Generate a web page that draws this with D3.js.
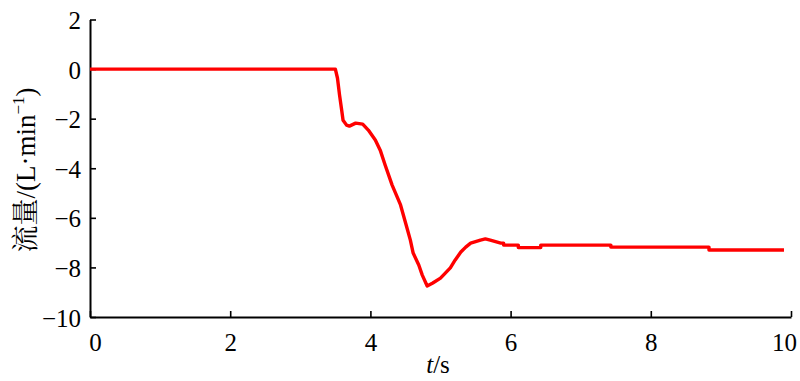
<!DOCTYPE html>
<html><head><meta charset="utf-8">
<script src="https://cdn.jsdelivr.net/npm/d3@7"></script>
<style>body{margin:0;background:#fff}svg{display:block}
.serif{font-family:"Liberation Serif","Times New Roman",Tinos,"DejaVu Serif",serif;}
.cjk{font-family:"Noto Serif CJK SC","Noto Sans CJK SC",sans-serif;}
</style>
</head><body>
<svg id="c" width="800" height="381"></svg>
<script>
const xTicks = [0, 2, 4, 6, 8, 10];
const yTicks = [2, 0, -2, -4, -6, -8, -10];
const timeS = [0, 3.5, 3.53, 3.56, 3.59, 3.61, 3.66, 3.70, 3.79, 3.89, 3.97, 4.07, 4.14, 4.21, 4.31, 4.43, 4.51, 4.57, 4.61, 4.69, 4.74, 4.81, 4.89, 5.0, 5.14, 5.21, 5.29, 5.36, 5.43, 5.57, 5.64, 5.71, 5.86, 5.90, 5.90, 6.11, 6.11, 6.43, 6.43, 7.43, 7.43, 8.83, 8.83, 9.9];
const flow  = [0, 0, -0.36, -1.05, -1.65, -2.06, -2.26, -2.30, -2.18, -2.22, -2.46, -2.86, -3.27, -3.87, -4.68, -5.48, -6.29, -6.90, -7.42, -7.90, -8.31, -8.75, -8.63, -8.43, -8.02, -7.70, -7.38, -7.18, -7.02, -6.90, -6.85, -6.90, -7.02, -7.02, -7.10, -7.10, -7.20, -7.20, -7.10, -7.10, -7.18, -7.18, -7.30, -7.30];

const svg = d3.select("#c");
const x = d3.scaleLinear().domain([0, 10]).range([90, 791]);
const y = d3.scaleLinear().domain([-10, 2]).range([317, 19.5]);

const xa = svg.append("g").attr("transform", `translate(0,${y(-10)})`)
  .call(d3.axisBottom(x).tickValues(xTicks).tickFormat(d3.format("d")).tickSizeInner(-6).tickSizeOuter(0).tickPadding(16));
const ya = svg.append("g").attr("transform", `translate(${x(0)},0)`)
  .call(d3.axisLeft(y).tickValues(yTicks).tickFormat(d => d < 0 ? "\u2212" + Math.abs(d) : d).tickSizeInner(-6).tickSizeOuter(0).tickPadding(9));
[xa, ya].forEach(a => {
  a.attr("font-family", null).attr("font-size", null);
  a.select(".domain").attr("stroke", "#000").attr("stroke-width", 2);
  a.selectAll(".tick line").attr("stroke", "#000").attr("stroke-width", 1.6);
  a.selectAll(".tick text").attr("class", "serif").style("font-size", "25px").attr("fill", "#000");
});
xa.selectAll(".tick text").filter(d => d === 0).attr("dx", 5);
xa.selectAll(".tick text").filter(d => d === 10).attr("dx", -7);
ya.selectAll(".tick text").attr("dy", "0.36em");

const pts = timeS.map((t, i) => [t, flow[i]]);
svg.append("path").datum(pts)
  .attr("fill", "none").attr("stroke", "#ff0000").attr("stroke-width", 3.4)
  .attr("stroke-linejoin", "round")
  .attr("d", d3.line().x(d => x(d[0])).y(d => y(d[1])));

const xl = svg.append("text").attr("class", "serif").attr("x", 438).attr("y", 373).attr("text-anchor", "middle")
  .style("font-size", "25px");
xl.append("tspan").style("font-style", "italic").text("t");
xl.append("tspan").text("/s");

const yl = svg.append("text").attr("class", "serif").attr("transform", "translate(35,170) rotate(-90)")
  .attr("text-anchor", "middle").style("font-size", "27px");
yl.append("tspan").attr("class", "cjk").text("流量");
yl.append("tspan").text("/(L·min");
yl.append("tspan").style("font-size", "17px").attr("dy", -11).text("\u22121");
yl.append("tspan").attr("dy", 11).text(")");
</script>
</body></html>
